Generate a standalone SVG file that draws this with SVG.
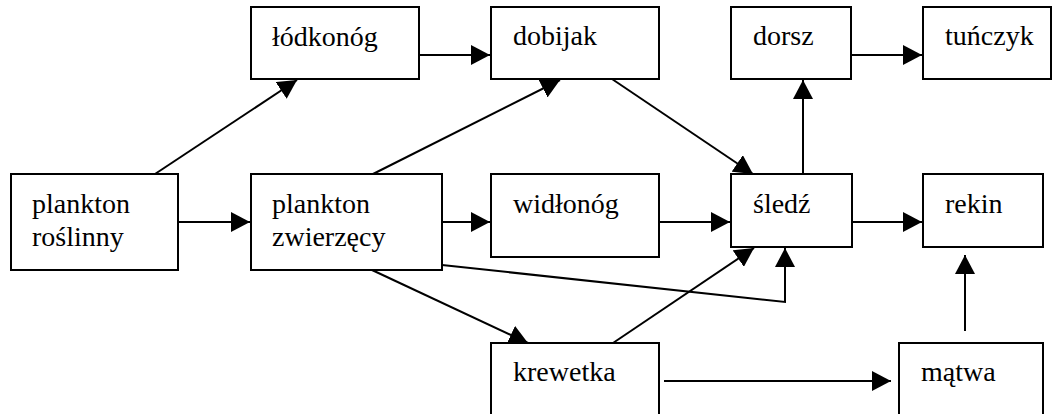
<svg xmlns="http://www.w3.org/2000/svg" width="1056" height="414" viewBox="0 0 1056 414">
<style>
.box{fill:#fff;stroke:#000;stroke-width:2}
.lbl{font-size:28px;fill:#000}
.c{fill:none;stroke:#000;stroke-width:2}
</style>
<defs>
<marker id="ah" markerUnits="userSpaceOnUse" markerWidth="20" markerHeight="20" refX="19" refY="10" orient="auto">
<path d="M0,0 L19,10 L0,20 z" fill="#000"/>
</marker>
</defs>
<rect width="1056" height="414" fill="#fff"/>
<g id="connectors">
<line class="c" x1="155" y1="174" x2="297" y2="80" marker-end="url(#ah)"/>
<line class="c" x1="419" y1="55" x2="490" y2="55" marker-end="url(#ah)"/>
<line class="c" x1="373" y1="174" x2="560" y2="80" marker-end="url(#ah)"/>
<line class="c" x1="612" y1="79" x2="753" y2="174" marker-end="url(#ah)"/>
<line class="c" x1="803" y1="174" x2="803" y2="80" marker-end="url(#ah)"/>
<line class="c" x1="851" y1="55" x2="922" y2="55" marker-end="url(#ah)"/>
<line class="c" x1="178" y1="222" x2="250" y2="222" marker-end="url(#ah)"/>
<line class="c" x1="442" y1="222" x2="490" y2="222" marker-end="url(#ah)"/>
<line class="c" x1="659" y1="222" x2="730" y2="222" marker-end="url(#ah)"/>
<line class="c" x1="852" y1="222" x2="922" y2="222" marker-end="url(#ah)"/>
<polyline class="c" points="442,265 785,302 785,248" marker-end="url(#ah)"/>
<line class="c" x1="372" y1="270" x2="528" y2="343" marker-end="url(#ah)"/>
<line class="c" x1="613" y1="343" x2="754" y2="248" marker-end="url(#ah)"/>
<line class="c" x1="664" y1="381" x2="891" y2="381" marker-end="url(#ah)"/>
<line class="c" x1="965" y1="331" x2="965" y2="255" marker-end="url(#ah)"/>
</g>
<g font-family="Liberation Serif, Times New Roman, DejaVu Serif, serif">
<g id="lodkonog"><rect class="box" x="251" y="7" width="168" height="72"/><text class="lbl" x="272" y="46">łódkonóg</text></g>
<g id="dobijak"><rect class="box" x="491" y="7" width="168" height="72"/><text class="lbl" x="513" y="45">dobijak</text></g>
<g id="dorsz"><rect class="box" x="731" y="7" width="120" height="72"/><text class="lbl" x="753" y="45">dorsz</text></g>
<g id="tunczyk"><rect class="box" x="923" y="7" width="128" height="72"/><text class="lbl" x="945" y="45">tuńczyk</text></g>
<g id="plankton-roslinny"><rect class="box" x="11" y="174" width="167" height="96"/><text class="lbl" x="32" y="213">plankton</text><text class="lbl" x="32" y="246">roślinny</text></g>
<g id="plankton-zwierzecy"><rect class="box" x="251" y="174" width="191" height="96"/><text class="lbl" x="272" y="213">plankton</text><text class="lbl" x="272" y="246">zwierzęcy</text></g>
<g id="widlonog"><rect class="box" x="491" y="174" width="168" height="83"/><text class="lbl" x="513" y="213">widłonóg</text></g>
<g id="sledz"><rect class="box" x="731" y="174" width="121" height="73"/><text class="lbl" x="753" y="213">śledź</text></g>
<g id="rekin"><rect class="box" x="923" y="174" width="120" height="73"/><text class="lbl" x="945" y="213">rekin</text></g>
<g id="krewetka"><rect class="box" x="491" y="343" width="168" height="74"/><text class="lbl" x="513" y="381">krewetka</text></g>
<g id="matwa"><rect class="box" x="899" y="343" width="144" height="74"/><text class="lbl" x="921" y="381">mątwa</text></g>
</g>
</svg>
